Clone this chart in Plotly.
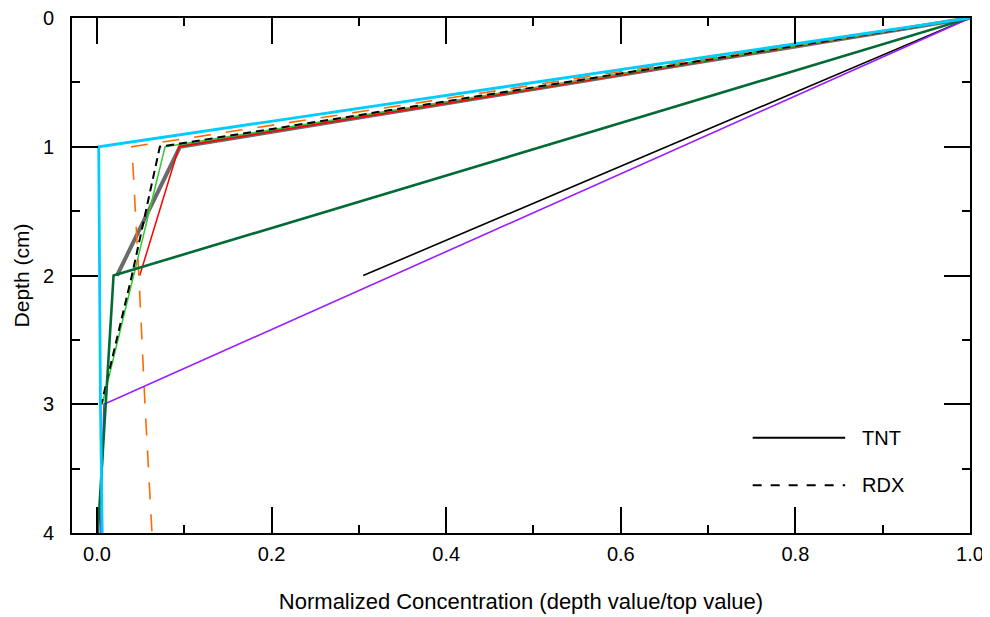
import plotly.graph_objects as go

# ---- data ----
depth_cm = [0, 1, 2, 3, 4]

# TNT profiles (solid lines)
tnt_gray_x = [1.0, 0.095, 0.023]
tnt_gray_d = [0, 1, 2]
tnt_red_x = [1.0, 0.094, 0.049]
tnt_red_d = [0, 1, 2]
tnt_green_x = [1.0, 0.078, 0.042, 0.006]
tnt_green_d = [0, 1, 2, 3]
tnt_black_x = [1.0, 0.305]
tnt_black_d = [0, 2]
tnt_purple_x = [1.0, 0.008, 0.004]
tnt_purple_d = [0, 3, 4]
tnt_darkgreen_x = [1.0, 0.019, 0.010, 0.001]
tnt_darkgreen_d = [0, 2, 3, 4]
tnt_cyan_x = [1.0, 0.002, 0.003, 0.004, 0.006]
tnt_cyan_d = [0, 1, 2, 3, 4]

# RDX profiles (dashed lines)
rdx_black_x = [1.0, 0.072, 0.040, 0.005]
rdx_black_d = [0, 1, 2, 3]
rdx_orange_x = [1.0, 0.040, 0.048, 0.055, 0.063]
rdx_orange_d = [0, 1, 2, 3, 4]

x_ticks = [0.0, 0.2, 0.4, 0.6, 0.8, 1.0]
y_ticks = [0, 1, 2, 3, 4]
legend_labels = ["TNT", "RDX"]

FONT = "Liberation Sans, Arial, sans-serif"

series = [
    ("TNT gray", tnt_gray_x, tnt_gray_d, "#6b6b6b", 4.0, "solid"),
    ("TNT red", tnt_red_x, tnt_red_d, "#ff0000", 1.5, "solid"),
    ("TNT green", tnt_green_x, tnt_green_d, "#33cc33", 1.5, "solid"),
    ("RDX black", rdx_black_x, rdx_black_d, "#000000", 2.0, "8px,5px"),
    ("RDX orange", rdx_orange_x, rdx_orange_d, "#ff6a00", 1.6, "17px,15px"),
    ("TNT black", tnt_black_x, tnt_black_d, "#000000", 1.6, "solid"),
    ("TNT purple", tnt_purple_x, tnt_purple_d, "#9b1cff", 1.6, "solid"),
    ("TNT dark green", tnt_darkgreen_x, tnt_darkgreen_d, "#006b35", 2.6, "solid"),
    ("TNT cyan", tnt_cyan_x, tnt_cyan_d, "#00ccff", 2.8, "solid"),
]

fig = go.Figure()
for name, xs, ds, color, width, dash in series:
    fig.add_trace(go.Scatter(
        x=xs, y=ds, mode="lines", name=name, showlegend=False,
        line=dict(color=color, width=width, dash=dash),
    ))

axis_common = dict(
    showline=True, linecolor="black", linewidth=2, mirror="allticks",
    ticks="inside", ticklen=26, tickwidth=2, tickcolor="black",
    showgrid=False, zeroline=False, automargin=False,
    ticklabeloverflow="allow",
    tickfont=dict(family=FONT, size=20, color="black"),
)

fig.update_xaxes(
    range=[-0.0286, 1.0], tickvals=x_ticks, tickformat=".1f",
    minor=dict(dtick=0.1, tick0=0, ticks="inside", ticklen=8, tickwidth=2, tickcolor="black"),
    ticklabelstandoff=2,
    title=dict(text="Normalized Concentration (depth value/top value)",
               font=dict(family=FONT, size=22, color="black"), standoff=30),
    **axis_common,
)
fig.update_yaxes(
    range=[4, 0], tickvals=y_ticks,
    minor=dict(dtick=0.5, tick0=0, ticks="inside", ticklen=8, tickwidth=2, tickcolor="black"),
    ticklabelstandoff=12,
    title=dict(text="Depth (cm)", font=dict(family=FONT, size=21, color="black"), standoff=8),
    **axis_common,
)

# legend drawn as key lines + labels
legend_y = [0.185, 0.0925]
legend_dash = ["solid", "dash"]
for lab, yy, dsh in zip(legend_labels, legend_y, legend_dash):
    fig.add_shape(type="line", xref="paper", yref="paper",
                  x0=0.758, x1=0.861, y0=yy, y1=yy,
                  line=dict(color="black", width=2, dash=dsh))
    fig.add_annotation(xref="paper", yref="paper", x=0.878, y=yy,
                       text=lab, showarrow=False, xanchor="left", yanchor="middle",
                       font=dict(family=FONT, size=20, color="black"))

fig.update_layout(
    width=990, height=617,
    margin=dict(l=64, r=28, t=10, b=92),
    paper_bgcolor="white", plot_bgcolor="white",
    showlegend=False,
)

fig.write_html("out.html")
